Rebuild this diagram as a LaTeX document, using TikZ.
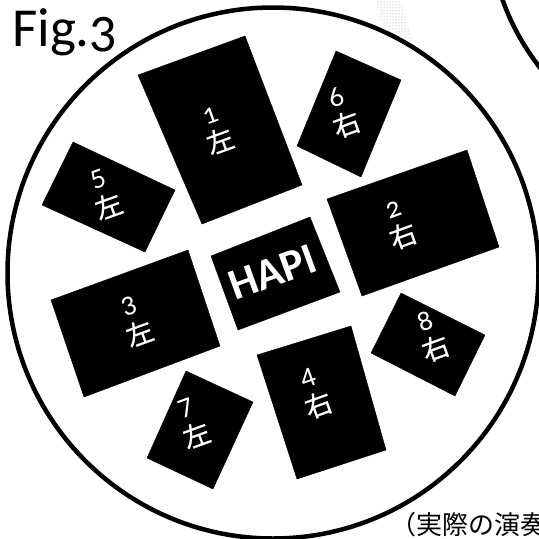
\documentclass[tikz,border=0pt]{standalone}
\usepackage{fontspec}
\setmainfont{Carlito}
\newfontfamily\cjk{Noto Sans CJK JP}
\newfontfamily\cjkheavy{Noto Sans CJK JP}[FakeBold=0.6]
\newfontfamily\figfont{Carlito}[Numbers=OldStyle]
\usetikzlibrary{patterns}
\tikzset{
  seat/.style={fill=black,draw=black,line join=miter},
  lab/.style={text=white,align=center,inner sep=0pt,rotate=20},
  ring/.style={draw=black,line width=4.5pt}
}
\newcommand{\seatlab}[2]{{\fontsize{29}{28}\selectfont\figfont #1}\\[6pt]{\fontsize{27}{27}\selectfont\cjkheavy #2}}
\begin{document}
\begin{tikzpicture}[x=1pt,y=-1pt]
\useasboundingbox (0,0) rectangle (539,539);
\clip (0,0) rectangle (539,539);
\fill[white] (0,0) rectangle (539,539);
\fill[pattern=dots,pattern color=gray!80] (376,0) -- (401,0) -- (413,42) -- (382,25) -- cycle;
\draw[ring] (273,273) circle[radius=265.5];
\draw[ring] (502,-2) .. controls (510,22) and (523,46) .. (541,69);
\filldraw[seat] (138,75) -- (245,36) -- (302,185) -- (202,224) -- cycle;
\filldraw[seat] (336,51) -- (401,80) -- (361,177) -- (297,146) -- cycle;
\filldraw[seat] (73,142) -- (175,190) -- (145,252) -- (42,205) -- cycle;
\filldraw[seat] (327,199) -- (467,150) -- (499,247) -- (362,296) -- cycle;
\filldraw[seat] (211,256) -- (310,217) -- (340,292) -- (238,330) -- cycle;
\filldraw[seat] (51,300) -- (188,250) -- (220,346) -- (84,397) -- cycle;
\filldraw[seat] (257,355) -- (351,326) -- (386,450) -- (297,479) -- cycle;
\filldraw[seat] (401,293) -- (485,335) -- (455,396) -- (371,353) -- cycle;
\filldraw[seat] (186,371) -- (253,402) -- (213,489) -- (147,458) -- cycle;
\node[lab] (s1) at (216,130) {\seatlab{1}{左}};
\node[lab] (s2) at (399,225) {\seatlab{2}{右}};
\node[lab] (s3) at (135,321) {\seatlab{3}{左}};
\node[lab] (s4) at (314,393) {\seatlab{4}{右}};
\node[lab] (s5) at (104,194) {\seatlab{5}{左}};
\node[lab] (s6) at (342,112) {\seatlab{6}{右}};
\node[lab] (s7) at (192,423) {\seatlab{7}{左}};
\node[lab] (s8) at (431,336) {\seatlab{8}{右}};
\node[text=white,rotate=20,inner sep=0pt,font=\fontsize{44}{44}\selectfont\bfseries] (hapi) at (273,272) {HAPI};
\node[anchor=base west,inner sep=0pt,font=\fontsize{55}{55}\selectfont\figfont] (fig) at (12,46) {Fig.3};
\node[anchor=base west,inner sep=0pt,font=\fontsize{26}{26}\selectfont\cjk] (note) at (390,534) {（実際の演奏};
\end{tikzpicture}
\end{document}
